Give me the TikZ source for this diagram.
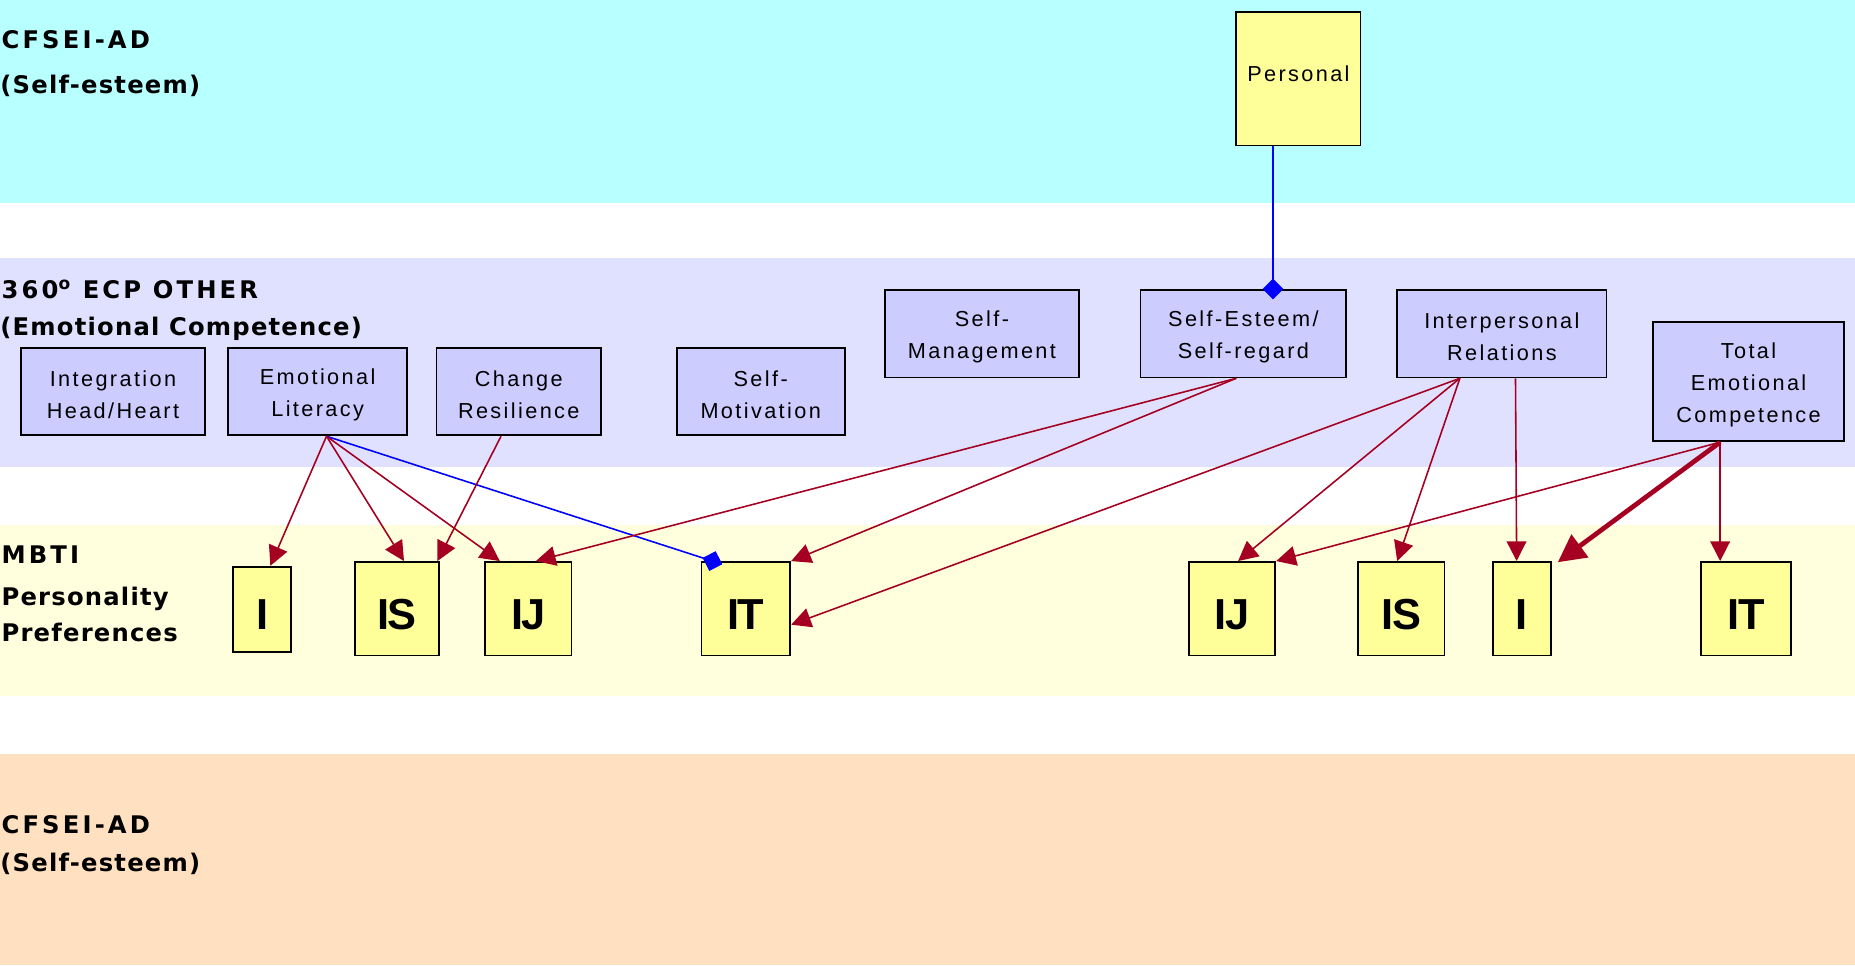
\documentclass[tikz,border=0pt]{standalone}
\usepackage{fontspec}
\setmainfont{Liberation Sans}
\newfontfamily\boxfont[LetterSpace=11]{Liberation Sans}
\newfontfamily\labfont[LetterSpace=5]{DejaVu Sans}
\newfontfamily\capsfont[LetterSpace=13]{DejaVu Sans}
\newfontfamily\bigfont[LetterSpace=-4]{Liberation Sans}
\usetikzlibrary{arrows.meta,calc}
\definecolor{cyanband}{RGB}{184,255,255}
\definecolor{lavband}{RGB}{224,224,255}
\definecolor{yelband}{RGB}{255,255,221}
\definecolor{peachband}{RGB}{255,224,192}
\definecolor{boxlav}{RGB}{204,204,255}
\definecolor{boxyel}{RGB}{255,255,153}
\definecolor{arrowred}{RGB}{165,0,33}
\definecolor{dblue}{RGB}{0,0,255}
\newcommand\topstrut{\rule{0pt}{11.6pt}}
\begin{document}
\begin{tikzpicture}[x=0.6pt,y=-0.6pt,
  lbox/.style={draw=black,line width=0.9pt,fill=boxlav,inner sep=0pt,align=center,
    font=\boxfont\fontsize{11}{16.2}\selectfont},
  ybox/.style={draw=black,line width=0.9pt,fill=boxyel,inner sep=0pt,
    text height=20.8pt,text depth=0pt,
    font=\bigfont\bfseries\fontsize{22}{22}\selectfont},
  lab/.style={anchor=base west,inner sep=0pt,font=\labfont\bfseries\fontsize{12.3}{14}\selectfont},
  caplab/.style={anchor=base west,inner sep=0pt,font=\capsfont\bfseries\fontsize{12.3}{14}\selectfont},
  rarrow/.style={draw=arrowred,line width=0.8pt,-{Triangle[length=10pt,width=10pt]}},
  tarrow/.style={draw=arrowred,line width=2.4pt,-{Triangle[length=14pt,width=14pt]}},
  bline/.style={draw=dblue,line width=0.8pt,-{Diamond[length=10.5pt,width=10.5pt]},shorten >=-5.25pt}
]
\clip (0,0) rectangle (1568,815.7);
% bands
\fill[cyanband] (0,0) rectangle (1568,172);
\fill[lavband] (0,218) rectangle (1568,395);
\fill[yelband] (0,444) rectangle (1568,588);
\fill[peachband] (0,637) rectangle (1568,815.7);
% band labels
\node[caplab] (t1) at (1,41) {CFSEI-AD};
\node[lab] (t2) at (0,79) {(Self-esteem)};
\node[caplab] (t3) at (1,252) {360\textsuperscript{o} ECP OTHER};
\node[lab] (t4) at (0,284) {(Emotional Competence)};
\node[caplab] (t5) at (1,476) {MBTI};
\node[lab] (t6) at (1,511.5) {Personality};
\node[lab] (t7) at (1,542.5) {Preferences};
\node[caplab] (t8) at (1,704.5) {CFSEI-AD};
\node[lab] (t9) at (0,737) {(Self-esteem)};
% top box
\node[lbox,fill=boxyel,minimum width=105*0.6pt,minimum height=113*0.6pt,text height=8pt,text depth=5pt] (pers) at (1097.5,66.5) {Personal};
% lavender boxes
\node[lbox,minimum width=164*0.6pt,minimum height=74*0.6pt] (sman) at (830,282) {\topstrut Self-\\Management};
\node[lbox,minimum width=174*0.6pt,minimum height=74*0.6pt] (sest) at (1051,282) {\topstrut Self-Esteem/\\Self-regard};
\node[lbox,minimum width=177*0.6pt,minimum height=74*0.6pt] (ipr) at (1269.5,282) {\topstrut Interpersonal\\Relations};
\node[lbox,minimum width=162*0.6pt,minimum height=101*0.6pt] (tec) at (1478,322.5) {\topstrut Total\\Emotional\\Competence};
\node[lbox,minimum width=155*0.6pt,minimum height=74*0.6pt] (ihh) at (95.5,331) {\topstrut Integration\\Head/Heart};
\node[lbox,minimum width=151*0.6pt,minimum height=74*0.6pt] (elit) at (268.5,331) {\topstrut Emotional\\Literacy};
\node[lbox,minimum width=139*0.6pt,minimum height=74*0.6pt] (chr) at (438.5,331) {\topstrut Change\\Resilience};
\node[lbox,minimum width=142*0.6pt,minimum height=74*0.6pt] (smot) at (643,331) {\topstrut Self-\\Motivation};
% yellow boxes
\node[ybox,minimum width=49*0.6pt,minimum height=72*0.6pt] (y1) at (221.5,515) {I};
\node[ybox,minimum width=71*0.6pt,minimum height=79*0.6pt] (y2) at (335.5,514.5) {IS};
\node[ybox,minimum width=73*0.6pt,minimum height=79*0.6pt] (y3) at (446.5,514.5) {IJ};
\node[ybox,minimum width=75*0.6pt,minimum height=79*0.6pt] (y4) at (630.5,514.5) {IT};
\node[ybox,minimum width=73*0.6pt,minimum height=79*0.6pt] (y5) at (1041.5,514.5) {IJ};
\node[ybox,minimum width=73*0.6pt,minimum height=79*0.6pt] (y6) at (1184.5,514.5) {IS};
\node[ybox,minimum width=49*0.6pt,minimum height=79*0.6pt] (y7) at (1286.5,514.5) {I};
\node[ybox,minimum width=76*0.6pt,minimum height=79*0.6pt] (y8) at (1476,514.5) {IT};
% connectors
\draw[bline] ($(pers.south)+(-21.5,0)$) -- ($(sest.north)+(25,0)$);
\draw[bline] ($(elit.south)+(7.5,0)$) -- ($(y4.north west)+(10,0)$);
\draw[rarrow] ($(elit.south)+(7.5,0)$) -- ($(y1.north)+(7,0)$);
\draw[rarrow] ($(elit.south)+(7.5,0)$) -- ($(y2.north)+(6,0)$);
\draw[rarrow] ($(elit.south)+(7.5,0)$) -- ($(y3.north)+(-24,0)$);
\draw[rarrow] ($(chr.south)+(-15,0)$) -- ($(y2.north east)+(-2,0)$);
\draw[rarrow] ($(sest.south)+(-6,0)$) -- ($(y3.north)+(6.5,0)$);
\draw[rarrow] ($(sest.south)+(-6,0)$) -- (y4.north east);
\draw[rarrow] ($(ipr.south)+(-35.5,0)$) -- ($(y4.east)+(0,13.5)$);
\draw[rarrow] ($(ipr.south)+(-35.5,0)$) -- ($(y5.north)+(5,0)$);
\draw[rarrow] ($(ipr.south)+(-35.5,0)$) -- ($(y6.north)+(-3.5,0)$);
\draw[rarrow] ($(ipr.south)+(11.5,0)$) -- ($(y7.north)+(-4.5,0)$);
\draw[rarrow] ($(tec.south)+(-24,0)$) -- (y5.north east);
\draw[tarrow] ($(tec.south)+(-24,0)$) -- ($(y7.north east)+(5,1)$);
\draw[rarrow] ($(tec.south)+(-24,0)$) -- ($(y8.north)+(-22,0)$);
\end{tikzpicture}
\end{document}
